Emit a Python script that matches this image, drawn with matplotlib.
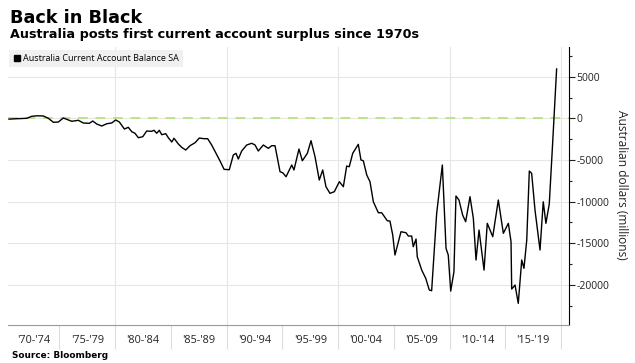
import matplotlib
matplotlib.use("Agg")
import matplotlib.pyplot as plt
from matplotlib.lines import Line2D
from matplotlib.ticker import MultipleLocator

plt.rcParams['font.family'] = ['Open Sans', 'DejaVu Sans']
plt.rcParams['axes.unicode_minus'] = False

# values (fractional year, A$ millions)
years = [1970.48, 1971.17, 1972.07, 1972.52, 1972.97, 1973.56, 1974.01, 1974.46, 1974.91, 1975.35,
         1975.80, 1976.11, 1976.70, 1977.15, 1977.69, 1977.99, 1978.35, 1978.80, 1979.25, 1979.69,
         1980.05, 1980.38, 1980.83, 1981.18, 1981.49, 1981.78, 1982.08, 1982.48, 1982.83, 1983.28,
         1983.49, 1983.73, 1983.96, 1984.18, 1984.54, 1984.77, 1985.08, 1985.28, 1985.67, 1985.97,
         1986.33, 1986.72, 1987.17, 1987.55, 1987.97, 1988.30, 1988.66, 1989.05, 1989.41, 1989.77,
         1990.24, 1990.60, 1990.84, 1991.05, 1991.35, 1991.80, 1992.25, 1992.55, 1992.84, 1993.29,
         1993.74, 1994.05, 1994.34, 1994.79, 1995.03, 1995.33, 1995.84, 1996.04, 1996.49, 1996.79,
         1997.24, 1997.57, 1997.93, 1998.31, 1998.62, 1998.91, 1999.27, 1999.66, 2000.11, 2000.47,
         2000.77, 2001.00, 2001.31, 2001.81, 2002.05, 2002.26, 2002.57, 2002.86, 2003.16, 2003.61,
         2003.91, 2004.41, 2004.65, 2004.90, 2005.10, 2005.64, 2006.09, 2006.30, 2006.60, 2006.74,
         2006.99, 2007.10, 2007.50, 2007.86, 2008.18, 2008.39, 2008.84, 2009.35, 2009.68, 2009.88,
         2010.10, 2010.39, 2010.57, 2010.84, 2011.17, 2011.44, 2011.83, 2012.13, 2012.37, 2012.64,
         2013.09, 2013.38, 2013.87, 2014.37, 2014.82, 2015.27, 2015.51, 2015.57, 2015.87, 2016.16,
         2016.47, 2016.67, 2016.92, 2017.15, 2017.36, 2017.66, 2018.11, 2018.40, 2018.64, 2018.94,
         2019.23, 2019.60]
values = [-100, -50, 0, 240, 300, 280, 0, -480, -445, 40,
          -200, -360, -240, -565, -600, -325, -685, -925, -650, -565,
          -200, -445, -1290, -1080, -1610, -1800, -2330, -2210, -1530, -1560,
          -1440, -1800, -1440, -1970, -1850, -2330, -2850, -2400, -3090, -3490,
          -3810, -3290, -2930, -2370, -2450, -2450, -3210, -4210, -5130, -6130,
          -6180, -4410, -4210, -4890, -3930, -3210, -3000, -3210, -3930, -3210,
          -3610, -3290, -3290, -6420, -6540, -7020, -5610, -6210, -3690, -5100,
          -4210, -2690, -4620, -7420, -6210, -8220, -9020, -8820, -7620, -8220,
          -5730, -5820, -4210, -3130, -5010, -5100, -6820, -7620, -10030, -11350,
          -11350, -12310, -12350, -14030, -16430, -13630, -13750, -14150, -14150, -15430,
          -14510, -16640, -18240, -19230, -20640, -20720, -11420, -5610, -15630, -16430,
          -20760, -18440, -9340, -9820, -11620, -12430, -9420, -12020, -17030, -13430,
          -18240, -12620, -14230, -9820, -13820, -12620, -14830, -20520, -20040, -22240,
          -17030, -18030, -14630, -6340, -6610, -11020, -15830, -10030, -12620, -10300,
          -3300, 5930]

band_labels = ["'70-'74", "'75-'79", "'80-'84", "'85-'89", "'90-'94",
               "'95-'99", "'00-'04", "'05-'09", "'10-'14", "'15-'19"]
band_starts = list(range(1970, 2020, 5))

W, H = 635, 363
fig = plt.figure(figsize=(W / 100, H / 100), dpi=100)
ax = fig.add_axes([8 / W, 1 - 325 / H, (569 - 8) / W, (325 - 47) / H])

xmin, xmax = 1970.39, 2020.71
ax.set_xlim(xmin, xmax)
ax.set_ylim(-24840, 8570)

for y in range(-20000, 5001, 5000):
    ax.axhline(y, color='#e6e6e6', lw=0.8, zorder=0)
for x in range(1980, 2021, 10):
    ax.axvline(x, color='#e6e6e6', lw=0.8, zorder=0)

ax.axhline(0, color='#bde38a', lw=1.4, ls=(0, (5, 4)), zorder=2)
ax.plot(years, values, color='black', lw=1.0, zorder=3)

for s in ['left', 'top']:
    ax.spines[s].set_visible(False)
ax.spines['right'].set_color('black')
ax.spines['right'].set_linewidth(0.8)
ax.spines['bottom'].set_color('#9a9a9a')
ax.spines['bottom'].set_linewidth(0.8)

# right y axis
ax.yaxis.tick_right()
ax.set_yticks(range(-20000, 5001, 5000))
ax.yaxis.set_minor_locator(MultipleLocator(2500))
ax.tick_params(axis='y', which='major', length=4, width=0.8, pad=1.5,
               labelsize=7.5, colors='#222222')
ax.tick_params(axis='y', which='minor', length=2.5, width=0.8, color='#222222')

# bottom: separators every 5 years, labels centred between them
ax.set_xticks(band_starts[1:] + [2020])
ax.set_xticklabels([])
centers = [s + 2.5 for s in band_starts]
centers[0] = (xmin + band_starts[1]) / 2
ax.set_xticks(centers, minor=True)
ax.set_xticklabels(band_labels, minor=True)
ax.tick_params(axis='x', which='major', length=17, width=0.8, color='#dddddd')
ax.tick_params(axis='x', which='minor', length=0, pad=7, labelsize=7.8, labelcolor='#222222')

fig.text(621 / W, 1 - 185 / H, 'Australian dollars (millions)', rotation=270,
         ha='center', va='center', fontsize=8.6, color='#222222')

fig.text(10 / W, 1 - 23 / H, 'Back in Black', fontsize=12.7, weight='bold',
         family='DejaVu Sans', va='baseline')
fig.text(10 / W, 1 - 38 / H, 'Australia posts first current account surplus since 1970s',
         fontsize=9.2, weight='bold', family='DejaVu Sans', va='baseline')
fig.text(12 / W, 1 - 356 / H, 'Source: Bloomberg', fontsize=6.4, weight='bold',
         family='DejaVu Sans', va='center')

handle = Line2D([], [], marker='s', color='black', linestyle='none', markersize=3.8)
leg = ax.legend([handle], ['Australia Current Account Balance SA'], loc='upper left',
                bbox_to_anchor=(9 / W, 1 - 50 / H), bbox_transform=fig.transFigure,
                frameon=True, fancybox=False, facecolor='#f0f0f0', edgecolor='none',
                framealpha=1, fontsize=6.5, handlelength=0.8, handletextpad=0.3,
                borderpad=0.45, borderaxespad=0)
leg.set_zorder(5)

fig.savefig('out.png', dpi=100)
